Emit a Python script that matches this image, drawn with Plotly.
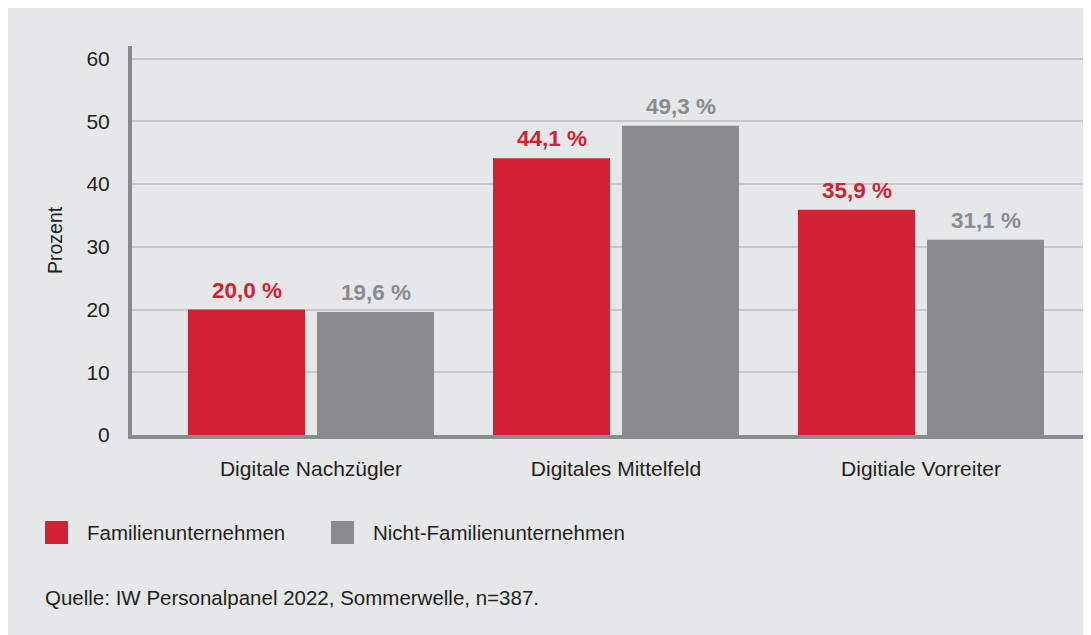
import plotly.graph_objects as go

categories = ["Digitale Nachzügler", "Digitales Mittelfeld", "Digitiale Vorreiter"]
series_names = ["Familienunternehmen", "Nicht-Familienunternehmen"]
familien = [20.0, 44.1, 35.9]
nicht_familien = [19.6, 49.3, 31.1]
y_ticks = [0, 10, 20, 30, 40, 50, 60]
source = "Quelle: IW Personalpanel 2022, Sommerwelle, n=387."

RED = "#d32134"
GRAY = "#8a8b8e"
BG = "#e6e7e9"
TXT = "#231f20"
FONT = "Liberation Sans"

OFF = 8  # page body margin
W, H = 1091 - OFF, 635 - OFF
L = 132 - OFF
T = 46 - OFF
B = H - (435 - OFF)
R = 0
PW, PH = W - L - R, H - T - B

CAT_PX = 305.0           # pixel width of one category slot
BAR_W = 117 / CAT_PX     # bar width in category units
GAP = 12 / CAT_PX        # gap between the two bars of a group


def px(x):  # screen x -> paper
    return (x - OFF - L) / PW


def py(y):  # screen y -> paper
    return (H - B - (y - OFF)) / PH


def fmt(v):
    return f"{v:.1f}".replace(".", ",") + " %"


fig = go.Figure()
fig.add_trace(go.Bar(x=categories, y=familien, name=series_names[0],
                     width=BAR_W, offset=-(BAR_W + GAP / 2),
                     marker=dict(color=RED, line=dict(width=0))))
fig.add_trace(go.Bar(x=categories, y=nicht_familien, name=series_names[1],
                     width=BAR_W, offset=GAP / 2,
                     marker=dict(color=GRAY, line=dict(width=0))))

shift = (BAR_W + GAP) / 2 * CAT_PX
annotations = []
for cat, v in zip(categories, familien):
    annotations.append(dict(x=cat, y=v, xref="x", yref="y", text=f"<b>{fmt(v)}</b>",
                            showarrow=False, yanchor="bottom", xshift=-shift, yshift=5,
                            font=dict(family=FONT, size=22.5, color=RED)))
for cat, v in zip(categories, nicht_familien):
    annotations.append(dict(x=cat, y=v, xref="x", yref="y", text=f"<b>{fmt(v)}</b>",
                            showarrow=False, yanchor="bottom", xshift=shift, yshift=5,
                            font=dict(family=FONT, size=22.5, color=GRAY)))

annotations.append(dict(x=px(55), y=py(240), xref="paper", yref="paper", text="Prozent",
                        textangle=-90, showarrow=False, xanchor="center", yanchor="middle",
                        font=dict(family=FONT, size=19.5, color=TXT)))
annotations.append(dict(x=px(85), y=py(532), xref="paper", yref="paper", text=series_names[0],
                        showarrow=False, xanchor="left", yanchor="middle",
                        font=dict(family=FONT, size=20.5, color=TXT)))
annotations.append(dict(x=px(371), y=py(532), xref="paper", yref="paper", text=series_names[1],
                        showarrow=False, xanchor="left", yanchor="middle",
                        font=dict(family=FONT, size=20.5, color=TXT)))
annotations.append(dict(x=px(43), y=py(597), xref="paper", yref="paper", text=source,
                        showarrow=False, xanchor="left", yanchor="middle",
                        font=dict(family=FONT, size=20.5, color=TXT)))

shapes = [
    dict(type="rect", xref="paper", yref="paper", x0=px(45), x1=px(68), y0=py(521), y1=py(544),
         fillcolor=RED, line=dict(width=0)),
    dict(type="rect", xref="paper", yref="paper", x0=px(331), x1=px(354), y0=py(521), y1=py(544),
         fillcolor=GRAY, line=dict(width=0)),
]

fig.update_layout(
    width=W, height=H,
    margin=dict(l=L, r=R, t=T, b=B, pad=0),
    paper_bgcolor=BG, plot_bgcolor=BG,
    barmode="overlay",
    showlegend=False,
    font=dict(family=FONT, size=20, color=TXT),
    annotations=annotations, shapes=shapes,
    xaxis=dict(range=[-0.5869, 2.5574], showline=True, linewidth=4, linecolor=GRAY,
               showgrid=False, ticks="outside", ticklen=12, tickcolor="rgba(0,0,0,0)",
               tickfont=dict(family=FONT, size=21, color=TXT), fixedrange=True),
    yaxis=dict(range=[0, 62], tickvals=y_ticks, showline=True, linewidth=4, linecolor=GRAY,
               showgrid=True, gridcolor="#c6c7c9", gridwidth=2, zeroline=False,
               ticks="outside", ticklen=14, tickcolor="rgba(0,0,0,0)",
               tickfont=dict(family=FONT, size=21, color=TXT), fixedrange=True),
)

fig.write_html("out.html")
